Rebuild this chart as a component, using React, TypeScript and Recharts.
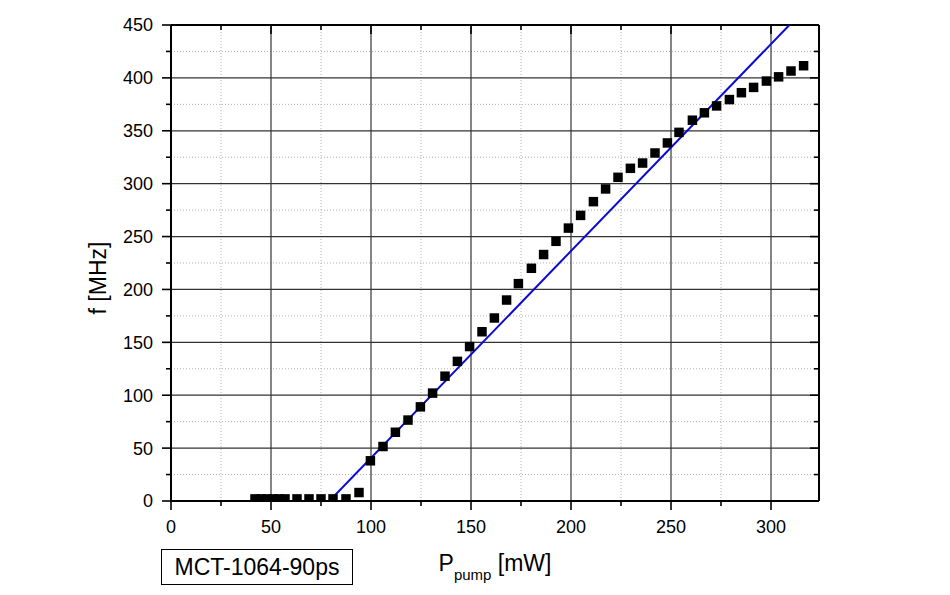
import React from 'react';
import { ScatterChart, Scatter, XAxis, YAxis, ZAxis, ReferenceLine, Label } from 'recharts';

// Measured pump power [mW]
const pumpPower = [
  42, 45, 48, 51, 54, 57, 63, 69, 75, 81, 87.5, 94,
  99.7, 106, 112.2, 118.5, 124.7, 130.8, 137, 143.2, 149.3, 155.5, 161.7, 167.8, 173.7,
  180.2, 186.3, 192.5, 198.7, 204.8, 211.2, 217.3, 223.5, 229.7, 235.8, 242, 248.2, 254,
  260.7, 266.7, 272.8, 279.2, 285.2, 291.3, 297.7, 303.8, 310, 316.3,
];
// Measured frequency [MHz]
const frequency = [
  2, 2, 2, 2, 2, 2, 2, 2, 2, 2, 2, 8,
  38, 51.5, 65, 76.5, 89, 102, 118, 132, 146, 160, 173, 190, 205.5,
  220, 233, 245.5, 258, 270, 283, 295, 306, 314.5, 319.5, 329, 338.5, 348.5,
  360, 367, 373.5, 379.5, 386, 391, 397, 401, 406.5, 411.5,
];
// Linear fit endpoints
const fitPower = [79.2, 309.2];
const fitFrequency = [0, 450];

const xTicks = [0, 25, 50, 75, 100, 125, 150, 175, 200, 225, 250, 275, 300];
const yTicks = [0, 25, 50, 75, 100, 125, 150, 175, 200, 225, 250, 275, 300, 325, 350, 375, 400, 425, 450];
const xMajorGrid = [50, 100, 150, 200, 250, 300];
const xMinorGrid = [25, 75, 125, 175, 225, 275];
const yMajorGrid = [50, 100, 150, 200, 250, 300, 350, 400];
const yMinorGrid = [25, 75, 125, 175, 225, 275, 325, 375, 425];

const legendText = 'MCT-1064-90ps';

const measured = pumpPower.map((p, i) => ({ p, f: frequency[i] }));
const fit = fitPower.map((p, i) => ({ p, f: fitFrequency[i] }));

const FONT = '"Liberation Sans", Arial, Helvetica, sans-serif';

const makeTick = (side: string) => (props: any) => {
  const { x, y, payload } = props;
  const v = payload.value;
  const major = v % 50 === 0;
  const len = major ? 9 : 5;
  if (side === 'bottom') {
    return (
      <g>
        <line x1={x} x2={x} y1={y} y2={y + len} stroke="#000" strokeWidth={1.6} />
        {major && (
          <text x={x} y={y + 32} textAnchor="middle" fontSize={18} fontFamily={FONT} fill="#000">
            {v}
          </text>
        )}
      </g>
    );
  }
  if (side === 'top') {
    return <line x1={x} x2={x} y1={y} y2={y + len} stroke="#000" strokeWidth={1.6} />;
  }
  if (side === 'left') {
    return (
      <g>
        <line x1={x} x2={x - len} y1={y} y2={y} stroke="#000" strokeWidth={1.6} />
        {major && (
          <text x={x - 18} y={y} dy="0.36em" textAnchor="end" fontSize={18} fontFamily={FONT} fill="#000">
            {v}
          </text>
        )}
      </g>
    );
  }
  return <line x1={x} x2={x - len} y1={y} y2={y} stroke="#000" strokeWidth={1.6} />;
};

const XLabel = (props: any) => {
  const { viewBox } = props;
  const cx = viewBox.x + viewBox.width / 2;
  const y = viewBox.y + 70;
  return (
    <text x={cx} y={y} textAnchor="middle" fontSize={23} fontFamily={FONT} fill="#000">
      <tspan>P</tspan>
      <tspan fontSize={15} dy={9}>pump</tspan>
      <tspan dy={-9}> [mW]</tspan>
    </text>
  );
};

const YLabel = (props: any) => {
  const { viewBox } = props;
  const x = viewBox.x - 72;
  const y = viewBox.y + viewBox.height / 2 + 15;
  return (
    <text
      x={x}
      y={y}
      transform={`rotate(-90, ${x}, ${y})`}
      textAnchor="middle"
      dy="0.36em"
      fontSize={23}
      fontFamily={FONT}
      fill="#000"
    >
      f [MHz]
    </text>
  );
};

const NoShape = () => <g />;

export default function App() {
  return (
    <div style={{ position: 'relative', width: 934, height: 587, background: '#fff' }}>
      <ScatterChart
        width={934}
        height={587}
        margin={{ top: 16, right: 122, bottom: 93, left: 162 }}
      >
        {xMinorGrid.map((v) => (
          <ReferenceLine key={'xm' + v} x={v} stroke="#b0b0b0" strokeDasharray="1 2" strokeWidth={1} />
        ))}
        {yMinorGrid.map((v) => (
          <ReferenceLine key={'ym' + v} y={v} stroke="#b0b0b0" strokeDasharray="1 2" strokeWidth={1} />
        ))}
        {xMajorGrid.map((v) => (
          <ReferenceLine key={'xM' + v} x={v} stroke="#333" strokeWidth={1.2} />
        ))}
        {yMajorGrid.map((v) => (
          <ReferenceLine key={'yM' + v} y={v} stroke="#333" strokeWidth={1.2} />
        ))}
        <ZAxis range={[90, 90]} />
        <XAxis
          dataKey="p"
          type="number"
          domain={[0, 324]}
          allowDataOverflow
          ticks={xTicks}
          height={1}
          tickSize={0}
          tickMargin={0}
          tickLine={false}
          axisLine={{ stroke: '#000', strokeWidth: 2 }}
          tick={makeTick('bottom')}
          interval={0}
        >
          <Label content={XLabel} />
        </XAxis>
        <XAxis
          xAxisId="top"
          orientation="top"
          dataKey="p"
          type="number"
          domain={[0, 324]}
          allowDataOverflow
          ticks={xTicks}
          height={1}
          tickSize={0}
          tickMargin={0}
          tickLine={false}
          axisLine={{ stroke: '#000', strokeWidth: 2 }}
          tick={makeTick('top')}
          interval={0}
        />
        <YAxis
          dataKey="f"
          type="number"
          domain={[0, 450]}
          allowDataOverflow
          ticks={yTicks}
          width={1}
          tickSize={0}
          tickMargin={0}
          tickLine={false}
          axisLine={{ stroke: '#000', strokeWidth: 2 }}
          tick={makeTick('left')}
          interval={0}
        >
          <Label content={YLabel} />
        </YAxis>
        <YAxis
          yAxisId="right"
          orientation="right"
          dataKey="f"
          type="number"
          domain={[0, 450]}
          allowDataOverflow
          ticks={yTicks}
          width={1}
          tickSize={0}
          tickMargin={0}
          tickLine={false}
          axisLine={{ stroke: '#000', strokeWidth: 2 }}
          tick={makeTick('right')}
          interval={0}
        />
        <Scatter
          data={fit}
          dataKey="f"
          line={{ stroke: '#0a0ad2', strokeWidth: 2 }}
          shape={NoShape}
          isAnimationActive={false}
        />
        <Scatter
          data={measured}
          dataKey="f"
          fill="#000"
          shape="square"
          isAnimationActive={false}
        />
      </ScatterChart>
      <div
        style={{
          position: 'absolute',
          left: 153,
          top: 541,
          width: 190,
          height: 34,
          border: '1.5px solid #000',
          fontFamily: FONT,
          fontSize: 23,
          lineHeight: '34px',
          textAlign: 'center',
          color: '#000',
          background: '#fff',
        }}
      >
        {legendText}
      </div>
    </div>
  );
}
